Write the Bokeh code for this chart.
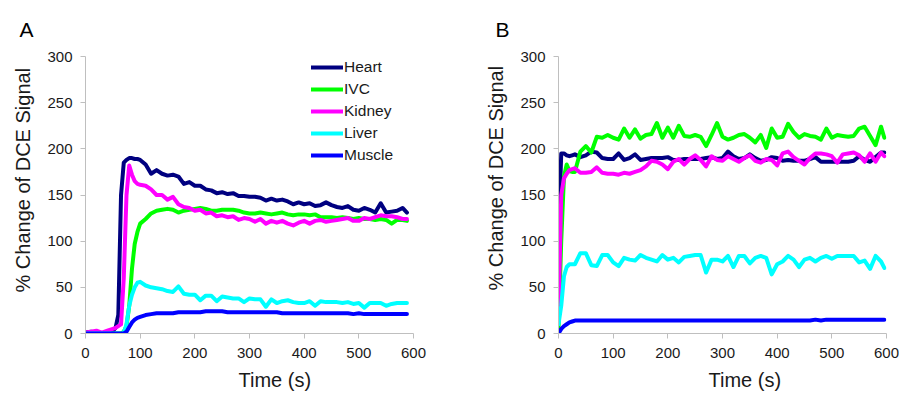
from bokeh.plotting import figure
from bokeh.layouts import row
from bokeh.models import Range1d, FixedTicker, Legend, LegendItem, Title
from bokeh.embed import file_html
from bokeh.resources import INLINE

# ---------------- data ----------------
series_names = ["Heart", "IVC", "Kidney", "Liver", "Muscle"]
series_colors = ["#000080", "#00ff00", "#ff00ff", "#00ffff", "#0000ff"]

x_ticks = [0, 100, 200, 300, 400, 500, 600]
y_ticks = [0, 50, 100, 150, 200, 250, 300]

# Panel A
time_a = [0, 10, 20, 30, 40, 50, 55, 60, 65, 70, 75, 80, 85, 90, 95, 100,
          110, 120, 130, 140, 150, 160, 170, 180, 190, 200,
          210, 220, 230, 240, 250, 260, 270, 280, 290, 300,
          310, 320, 330, 340, 350, 360, 370, 380, 390, 400,
          410, 420, 430, 440, 450, 460, 470, 480, 490, 500,
          510, 520, 530, 540, 550, 560, 570, 580,
          588]
heart_a = [1, 2, 1, 0, 1, 3, 6, 20, 150, 185, 188, 190, 190, 189, 189, 188,
           183, 173, 177, 173, 171, 172, 170, 162, 164, 160,
           160, 156, 155, 152, 153, 151, 152, 149, 149, 148,
           148, 147, 144, 146, 144, 145, 143, 140, 142, 140,
           141, 138, 139, 142, 139, 137, 136, 138, 134, 133,
           136, 134, 131, 141, 131, 132, 133, 136,
           131]
ivc_a = [0, 0, 0, 0, 0, 0, 0, 0, 0, 2, 8, 30, 70, 97, 110, 119,
         124, 130, 133, 134, 135, 134, 131, 133, 134, 135,
         136, 135, 133, 133, 134, 134, 134, 133, 131, 130,
         130, 131, 130, 129, 130, 131, 129, 128, 129, 129,
         128, 129, 126, 126, 126, 125, 126, 125, 124, 125,
         124, 124, 123, 124, 123, 119, 123, 123,
         122]
kidney_a = [1, 2, 3, 1, 3, 5, 6, 8, 10, 60, 150, 182, 172, 165, 162, 161,
            160, 156, 150, 150, 145, 148, 140, 137, 136, 133,
            134, 130, 131, 127, 128, 126, 127, 123, 125, 124,
            121, 124, 119, 122, 120, 122, 119, 117, 120, 122,
            119, 122, 123, 121, 122, 123, 124, 125, 122, 122,
            125, 124, 126, 128, 127, 127, 126, 124,
            124]
liver_a = [0, 0, 0, 0, 0, 0, 0, 0, 0, 1, 10, 30, 42, 50, 55, 56,
           52, 50, 49, 48, 46, 45, 51, 43, 42, 42,
           36, 41, 41, 35, 40, 39, 38, 38, 34, 38,
           37, 37, 29, 37, 33, 35, 36, 34, 33, 33,
           35, 30, 35, 34, 34, 34, 33, 34, 32, 33,
           28, 33, 33, 33, 30, 32, 33, 33,
           33]
muscle_a = [0, 0, 0, 0, 0, 0, 0, 0, 0, 0, 2, 7, 12, 15, 17, 18,
            20, 21, 22, 22, 22, 22, 23, 23, 23, 23,
            23, 24, 24, 24, 24, 23, 23, 23, 23, 23,
            23, 23, 23, 23, 23, 22, 22, 22, 22, 22,
            22, 22, 22, 22, 22, 22, 22, 22, 21, 22,
            21, 21, 21, 21, 21, 21, 21, 21,
            21]

# Panel B
time_b = [0, 5, 10, 15, 20, 25, 30,
          40, 50, 60, 70, 80, 90, 100, 110, 120, 130,
          140, 150, 160, 170, 180, 190, 200, 210, 220, 230,
          240, 250, 260, 270, 280, 290, 300, 310, 320, 330,
          340, 350, 360, 370, 380, 390, 400, 410, 420, 430,
          440, 450, 460, 470, 480, 490, 500, 510, 520, 530,
          540, 550, 560, 570, 580, 590,
          596]
heart_b = [100, 195, 195, 193, 192, 193, 194,
           191, 193, 197, 196, 190, 189, 189, 195, 188, 190,
           194, 188, 189, 190, 190, 190, 191, 188, 188, 189,
           189, 189, 189, 190, 191, 189, 190, 197, 192, 189,
           190, 194, 190, 187, 188, 191, 190, 187, 188, 187,
           187, 187, 189, 191, 186, 186, 186, 186, 186, 186,
           187, 192, 188, 186, 191, 196,
           196]
ivc_b = [5, 100, 170, 183, 176, 175, 175,
         197, 203, 196, 213, 212, 215, 212, 210, 222, 212,
         221, 211, 215, 216, 228, 212, 223, 212, 225, 214,
         213, 215, 213, 203, 215, 228, 213, 210, 212, 215,
         216, 212, 207, 215, 201, 222, 212, 213, 227, 218,
         212, 216, 214, 213, 210, 222, 212, 215, 214, 213,
         214, 222, 224, 214, 204, 224,
         212]
kidney_b = [20, 150, 168, 173, 177, 178, 179,
            174, 174, 175, 180, 174, 173, 173, 172, 174, 173,
            175, 177, 181, 187, 186, 183, 178, 186, 189, 183,
            189, 193, 188, 181, 192, 188, 187, 192, 189, 186,
            190, 193, 187, 185, 189, 188, 182, 195, 197, 191,
            187, 183, 190, 195, 195, 194, 192, 185, 194, 195,
            196, 193, 186, 195, 186, 196,
            192]
liver_b = [10, 30, 62, 72, 75, 75, 75,
           87, 87, 74, 73, 85, 85, 77, 73, 82, 80,
           79, 85, 82, 80, 78, 85, 80, 82, 77, 83,
           84, 85, 85, 66, 80, 80, 78, 84, 72, 84,
           84, 76, 82, 84, 82, 64, 75, 78, 84, 80,
           72, 80, 82, 78, 82, 84, 81, 84, 84, 84,
           84, 77, 79, 70, 84, 78,
           71]
muscle_b = [0, 5, 8, 10, 12, 13, 14,
            14, 14, 14, 14, 14, 14, 14, 14, 14, 14,
            14, 14, 14, 14, 14, 14, 14, 14, 14, 14,
            14, 14, 14, 14, 14, 14, 14, 14, 14, 14,
            14, 14, 14, 14, 14, 14, 14, 14, 14, 14,
            14, 14, 14, 15, 14, 15, 15, 15, 15, 15,
            15, 15, 15, 15, 15, 15,
            15]

FONT = "Liberation Sans"
TEXT = "#1a1a1a"
AXIS = "#bfbfbf"
HEIGHT = 402


def make_panel(times, series, width, borders, letter, letter_off,
               ylab_off, xlab_off, legend):
    left, right, top, bottom = borders
    p = figure(width=width, height=HEIGHT, x_range=Range1d(0, 600),
               y_range=Range1d(0, 300), output_backend="svg",
               toolbar_location=None, min_border_left=left,
               min_border_right=right, min_border_top=top,
               min_border_bottom=bottom)
    p.outline_line_color = None
    p.grid.visible = False
    p.background_fill_color = "white"
    p.border_fill_color = "white"

    p.xaxis.ticker = FixedTicker(ticks=x_ticks)
    p.yaxis.ticker = FixedTicker(ticks=y_ticks)
    for ax in (p.xaxis, p.yaxis):
        ax.axis_line_color = AXIS
        ax.major_tick_line_color = AXIS
        ax.major_tick_out = 5
        ax.major_tick_in = 0
        ax.minor_tick_line_color = None
        ax.major_label_text_font = FONT
        ax.major_label_text_font_size = "15px"
        ax.major_label_text_color = TEXT
    p.xaxis.major_label_standoff = 9
    p.yaxis.major_label_standoff = 8

    renderers = []
    for name, color, vals in zip(series_names, series_colors, series):
        r = p.line(times, vals, line_color=color, line_width=4,
                   line_join="round", line_cap="round")
        renderers.append((name, r))

    if legend:
        leg = Legend(items=[LegendItem(label=n, renderers=[r]) for n, r in renderers],
                     location=(226, 168), orientation="vertical",
                     glyph_width=32, glyph_height=20, label_height=20,
                     label_width=40, spacing=2, padding=0, margin=0,
                     label_standoff=1, border_line_color=None,
                     background_fill_alpha=0,
                     label_text_font=FONT, label_text_font_size="15.5px",
                     label_text_color=TEXT)
        p.add_layout(leg)

    # panel letter
    p.add_layout(Title(text=letter, align="left", offset=letter_off,
                       vertical_align="top", standoff=28,
                       text_font=FONT, text_font_size="21px",
                       text_font_style="normal", text_color="black"), "above")
    # y axis title
    p.add_layout(Title(text="% Change of DCE Signal", align="left", offset=ylab_off,
                       vertical_align="middle", standoff=20,
                       text_font=FONT, text_font_size="20px",
                       text_font_style="normal", text_color=TEXT), "left")
    # x axis title
    p.add_layout(Title(text="Time (s)", align="left", offset=xlab_off,
                       vertical_align="bottom", standoff=12,
                       text_font=FONT, text_font_size="20px",
                       text_font_style="normal", text_color=TEXT), "below")
    return p


pa = make_panel(time_a, [heart_a, ivc_a, kidney_a, liver_a, muscle_a],
                width=450, borders=(84, 37, 56, HEIGHT - 334), letter="A",
                letter_off=-66, ylab_off=41, xlab_off=153, legend=True)
pb = make_panel(time_b, [heart_b, ivc_b, kidney_b, liver_b, muscle_b],
                width=449, borders=(108, 13, 55, HEIGHT - 333), letter="B",
                letter_off=-63, ylab_off=43, xlab_off=150, legend=False)

layout = row(pa, pb)
open("out.html", "w").write(file_html(layout, INLINE))
